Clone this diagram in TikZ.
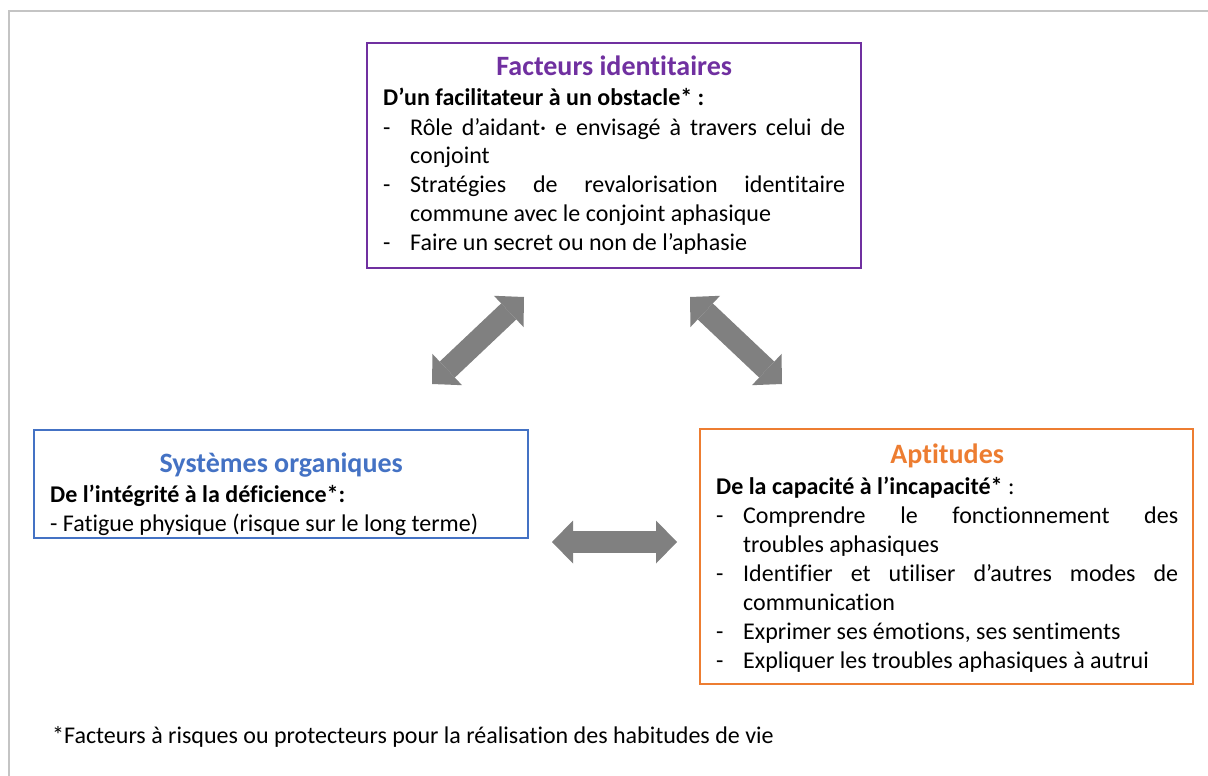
\documentclass[tikz,border=0pt]{standalone}
\usepackage{fontspec}
\setmainfont{Carlito}[Ligatures=NoCommon]
\usetikzlibrary{arrows.meta}
\definecolor{purp}{HTML}{7030A0}
\definecolor{bluec}{HTML}{4472C4}
\definecolor{orangec}{HTML}{ED7D31}
\definecolor{arrgray}{HTML}{808080}
\definecolor{framegray}{HTML}{C4C4C4}
\newcommand{\titlef}{\fontsize{28}{31}\selectfont\bfseries}
\newcommand{\bodyf}{\fontsize{24}{29}\selectfont}
\newcommand{\itm}[1]{\par\noindent\hangindent=27pt\hangafter=1\makebox[27pt][l]{-}#1}
\tikzset{
  boxframe/.style={draw, line width=1.5pt, inner sep=0pt, fill=none},
  boxtext/.style={inner sep=0pt, text width=462pt, align=justify, anchor=base west,
    font=\bodyf, execute at begin node={\parindent=0pt\hyphenpenalty=10000\exhyphenpenalty=10000\tolerance=10000}},
  bigarrow/.style={draw=arrgray, line width=22pt,
    arrows={Triangle[length=21pt,width=43pt,line width=0pt]-Triangle[length=21pt,width=43pt,line width=0pt]}},
}
\begin{document}
\begin{tikzpicture}[x=1pt,y=-1pt]
\useasboundingbox (0,0) rectangle (1208,776);
\fill[white] (0,0) rectangle (1208,776);
\draw[framegray, line width=2pt] (9,776) -- (9,11) -- (1208,11);

% boxes
\node[boxframe, draw=purp, minimum width=494pt, minimum height=225pt] (ftop) at (614,155.5) {};
\node[boxframe, draw=bluec, minimum width=494pt, minimum height=108pt] (fleft) at (281,484) {};
\node[boxframe, draw=orangec, minimum width=493pt, minimum height=255pt] (fright) at (946.5,556.5) {};

% texts
\node[boxtext] (ttop) at (383,75) {{\centering\titlef\textcolor{purp}{Facteurs identitaires}\par}\vskip2pt
\textbf{D’un facilitateur à un obstacle* :}
\itm{Rôle d’aidant· e envisagé à travers celui de\linebreak conjoint}
\itm{Stratégies de revalorisation identitaire\linebreak commune avec le conjoint aphasique}
\itm{Faire un secret ou non de l’aphasie}};

\node[boxtext] (tleft) at (50,472) {{\centering\titlef\textcolor{bluec}{Systèmes organiques}\par}\vskip1pt
\textbf{De l’intégrité à la déficience*:}\par
- Fatigue physique (risque sur le long terme)};

\node[boxtext] (tright) at (716,463) {{\centering\titlef\textcolor{orangec}{Aptitudes}\par}\vskip2pt
\textbf{De la capacité à l’incapacité*} :
\itm{Comprendre le fonctionnement des\linebreak troubles aphasiques}
\itm{Identifier et utiliser d’autres modes de\linebreak communication}
\itm{Exprimer ses émotions, ses sentiments}
\itm{Expliquer les troubles aphasiques à autrui}};

\node[inner sep=0pt, anchor=base west, font=\bodyf] (foot) at (52,743) {*Facteurs à risques ou protecteurs pour la réalisation des habitudes de vie};

% arrows
\coordinate (a1s) at (432,384);
\coordinate (a1e) at (524,297);
\coordinate (a2s) at (690,297);
\coordinate (a2e) at (782,384);
\coordinate (a3s) at (552,542);
\coordinate (a3e) at (677,542);
\draw[bigarrow] (a1s) -- (a1e);
\draw[bigarrow] (a2s) -- (a2e);
\draw[bigarrow] (a3s) -- (a3e);
\end{tikzpicture}
\end{document}
